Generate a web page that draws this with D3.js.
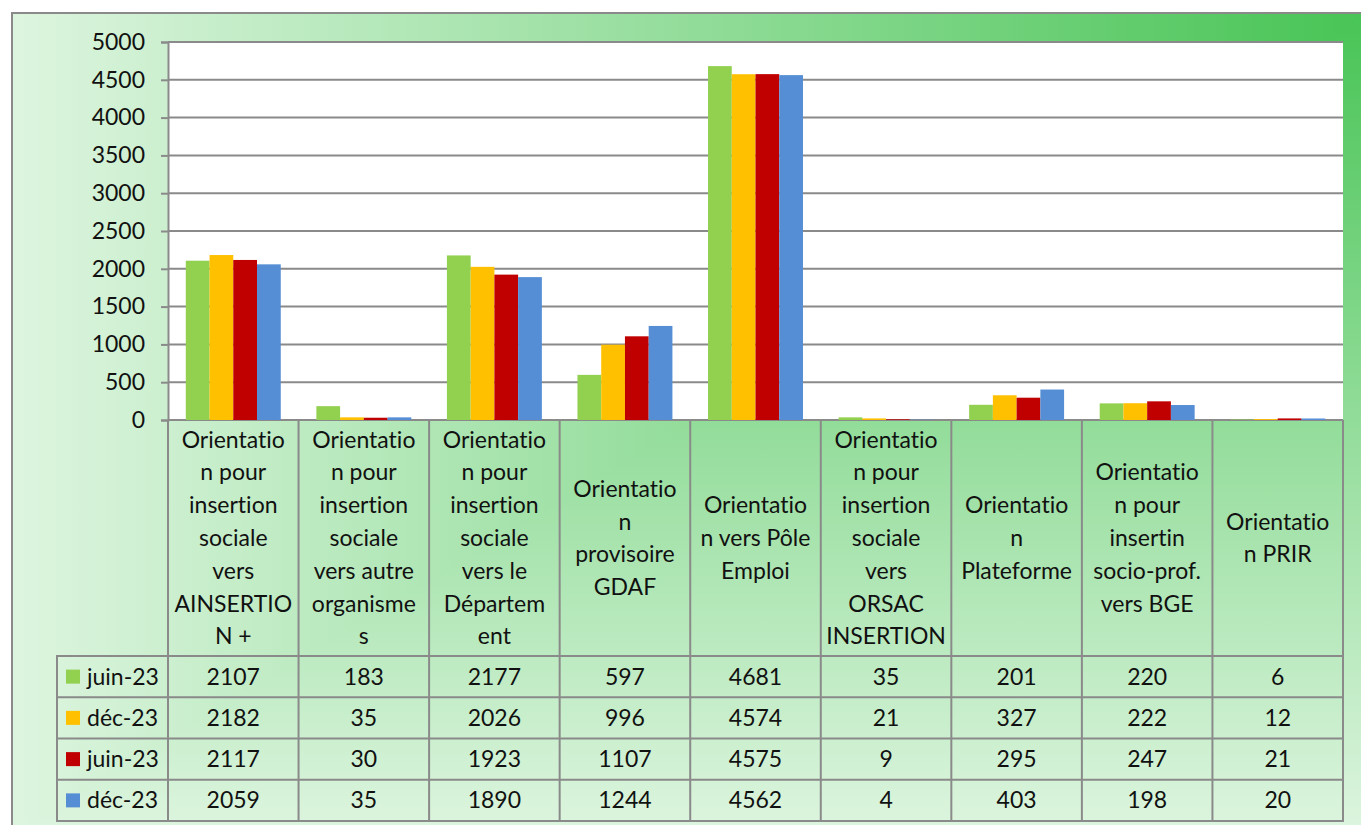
<!DOCTYPE html>
<html><head><meta charset="utf-8">
<script src="https://cdn.jsdelivr.net/npm/d3@7"></script>
<style>body{margin:0;background:#fff}svg{display:block}text{font-family:Lato,"Liberation Sans",sans-serif;fill:#111;font-variant-ligatures:none;font-feature-settings:"liga" 0,"clig" 0,"dlig" 0}</style>
</head><body><svg id="c" width="1361" height="825"></svg>
<script>
// ---- data ----
const categories = [
  ["Orientatio","n pour","insertion","sociale","vers","AINSERTIO","N +"],
  ["Orientatio","n pour","insertion","sociale","vers autre","organisme","s"],
  ["Orientatio","n pour","insertion","sociale","vers le","Départem","ent"],
  ["Orientatio","n","provisoire","GDAF"],
  ["Orientatio","n vers Pôle","Emploi"],
  ["Orientatio","n pour","insertion","sociale","vers","ORSAC","INSERTION"],
  ["Orientatio","n","Plateforme"],
  ["Orientatio","n pour","insertin","socio-prof.","vers BGE"],
  ["Orientatio","n PRIR"]
];
const seriesNames = ["juin-23","déc-23","juin-23","déc-23"];
const seriesColors = ["#92d050","#ffc000","#c00000","#558ed5"];
const s1 = [2107,183,2177,597,4681,35,201,220,6];
const s2 = [2182,35,2026,996,4574,21,327,222,12];
const s3 = [2117,30,1923,1107,4575,9,295,247,21];
const s4 = [2059,35,1890,1244,4562,4,403,198,20];
const seriesValues = [s1,s2,s3,s4];
const yTicks = [0,500,1000,1500,2000,2500,3000,3500,4000,4500,5000];

// ---- layout ----
const svg = d3.select("#c");
const L = 168, R = 1343, T = 42, B = 420;
const headerBottom = 656, rowH = 41.25, legendLeft = 57;
const gray = "#8a8a8a";
const fx0 = 12, fy0 = 13, fx1 = 1366, fy1 = 832;
const FS = 23;

const defs = svg.append("defs");
const gv = defs.append("linearGradient").attr("id","gv").attr("gradientUnits","userSpaceOnUse")
  .attr("x1",0).attr("y1",fy0).attr("x2",0).attr("y2",fy1);
gv.append("stop").attr("offset",0).attr("stop-color","#48c455");
gv.append("stop").attr("offset",1).attr("stop-color","#ddf5df");
const gh = defs.append("linearGradient").attr("id","gh").attr("gradientUnits","userSpaceOnUse")
  .attr("x1",fx1).attr("y1",0).attr("x2",fx0).attr("y2",0);
gh.append("stop").attr("offset",0).attr("stop-color","#48c455");
gh.append("stop").attr("offset",1).attr("stop-color","#ddf5df");

svg.append("rect").attr("x",fx0).attr("y",fy0).attr("width",fx1-fx0).attr("height",fy1-fy0).attr("fill","url(#gv)");
svg.append("polygon").attr("points",`${fx0},${fy0} ${fx1},${fy0} ${fx0},${fy1}`).attr("fill","url(#gh)");
svg.append("rect").attr("x",fx0).attr("y",fy0).attr("width",fx1-fx0).attr("height",fy1-fy0)
  .attr("fill","none").attr("stroke",gray).attr("stroke-width",2);

// plot area
svg.append("rect").attr("x",L).attr("y",T).attr("width",R-L).attr("height",B-T).attr("fill","#fff");

const x = d3.scaleBand().domain(d3.range(categories.length)).range([L,R]);
const bw = x.bandwidth();
const gap = bw*1.5/5.5;
const x1 = d3.scaleBand().domain(d3.range(seriesNames.length)).range([gap/2, bw-gap/2]);
const y = d3.scaleLinear().domain([0,5000]).range([B,T]);

// gridlines
svg.append("g").selectAll("line").data(yTicks).join("line")
  .attr("x1",L).attr("x2",R).attr("y1",d=>y(d)).attr("y2",d=>y(d))
  .attr("stroke",gray).attr("stroke-width",2);

// bars
svg.append("g").selectAll("g").data(seriesValues).join("g")
  .attr("fill",(d,i)=>seriesColors[i])
  .each(function(vals,si){
    d3.select(this).selectAll("rect").data(vals).join("rect")
      .attr("x",(v,ci)=>x(ci)+x1(si)).attr("width",x1.bandwidth())
      .attr("y",v=>y(v)).attr("height",v=>y(0)-y(v));
  });

// axis
const ax = svg.append("g").attr("transform",`translate(${L},0)`)
  .call(d3.axisLeft(y).tickValues(yTicks).tickSize(7).tickPadding(16).tickFormat(d3.format("d")));
ax.select(".domain").attr("stroke",gray).attr("stroke-width",2);
ax.selectAll(".tick line").attr("stroke",gray).attr("stroke-width",2);
ax.selectAll(".tick text").attr("font-size",FS).attr("font-family","Lato").attr("fill","#111");

// table
const tg = svg.append("g");
categories.forEach((lines,ci)=>{
  const cx = x(ci)+bw/2, cy = (B+headerBottom)/2, lh = 32.8;
  const t = tg.append("text").attr("text-anchor","middle").attr("font-size",FS);
  lines.forEach((ln,li)=>{
    t.append("tspan").attr("x",cx).attr("y",cy+(li-(lines.length-1)/2)*lh+8).text(ln);
  });
});
seriesValues.forEach((vals,si)=>{
  const ry = headerBottom + si*rowH, cy = ry+rowH/2;
  tg.append("rect").attr("x",66).attr("y",cy-7).attr("width",14).attr("height",14).attr("fill",seriesColors[si]);
  tg.append("text").attr("x",87).attr("y",cy+8).attr("font-size",FS).text(seriesNames[si]);
  vals.forEach((v,ci)=>{
    tg.append("text").attr("x",x(ci)+bw/2).attr("y",cy+8).attr("text-anchor","middle").attr("font-size",FS).text(v);
  });
});
const tb = headerBottom + rowH*4;
x.domain().concat([categories.length]).forEach(ci=>{
  const xx = ci<categories.length ? x(ci) : R;
  tg.append("line").attr("x1",xx).attr("x2",xx).attr("y1",B).attr("y2",tb).attr("stroke",gray).attr("stroke-width",2);
});
tg.append("line").attr("x1",legendLeft).attr("x2",legendLeft).attr("y1",headerBottom).attr("y2",tb).attr("stroke",gray).attr("stroke-width",2);
d3.range(5).forEach(i=>{
  const yy = headerBottom + i*rowH;
  tg.append("line").attr("x1",legendLeft-1).attr("x2",R+1).attr("y1",yy).attr("y2",yy).attr("stroke",gray).attr("stroke-width",2);
});
</script></body></html>
